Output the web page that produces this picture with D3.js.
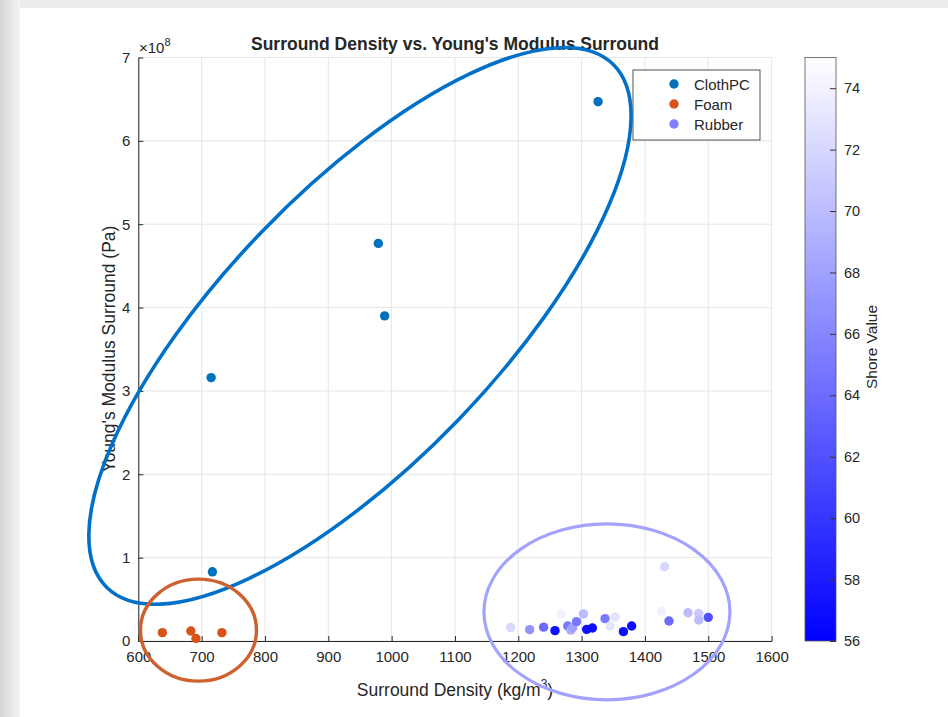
<!DOCTYPE html>
<html>
<head>
<meta charset="utf-8">
<script src="https://cdn.jsdelivr.net/npm/d3@7"></script>
<style>
  body { margin: 0; background: #ffffff; }
  text { font-family: "Liberation Sans", Arial, sans-serif; fill: #262626; }
</style>
</head>
<body>
<svg id="grafico"></svg>
<script>
// dados
let clothDensidade = [1326, 979, 989, 715, 717];
let clothModulo = [6.47e8, 4.77e8, 3.90e8, 3.16e8, 0.83e8];

let foamDensidade = [638, 683, 691, 732];
let foamModulo = [0.10e8, 0.12e8, 0.03e8, 0.10e8];

let rubberDensidade = [1188, 1218, 1240, 1258, 1268, 1278, 1283, 1286, 1292, 1303, 1308, 1317, 1337, 1345, 1353, 1366, 1379, 1426, 1431, 1438, 1468, 1485, 1485, 1500];
let rubberModulo = [0.164e8, 0.136e8, 0.166e8, 0.124e8, 0.325e8, 0.18e8, 0.13e8, 0.16e8, 0.232e8, 0.325e8, 0.14e8, 0.156e8, 0.268e8, 0.18e8, 0.288e8, 0.112e8, 0.18e8, 0.356e8, 0.891e8, 0.24e8, 0.339e8, 0.332e8, 0.252e8, 0.284e8];
let rubberShore = [72, 67, 64, 57, 74, 65, 69, 68, 65, 70, 57, 57, 65, 73, 73, 57, 57, 74, 72, 64, 70, 71, 70, 62];

let ticksX = [600, 700, 800, 900, 1000, 1100, 1200, 1300, 1400, 1500, 1600];
let ticksY = [0, 1, 2, 3, 4, 5, 6, 7];
let ticksShore = [56, 58, 60, 62, 64, 66, 68, 70, 72, 74];

let series = ["ClothPC", "Foam", "Rubber"];
let coresSeries = ["#0072bd", "#d95319", "#7f7fff"];

// anotacoes: centro em unidades dos dados
let elipses = [
  { cx: 950, cy: 3.78e8, rx: 364, ry: 136, rot: -46, cor: "#0070c8", esp: 3.6 },
  { cx: 695, cy: 0.13e8, rx: 58, ry: 51, rot: 0, cor: "#cd6230", esp: 3.4 },
  { cx: 1340, cy: 0.35e8, rx: 123, ry: 88, rot: 0, cor: "#a3a3ff", esp: 3.2 }
];

let largura = 948, altura = 717;
let svg = d3.select("#grafico").attr("width", largura).attr("height", altura);

// bordas cinza da captura de tela
let grad = svg.append("defs").append("linearGradient").attr("id", "borda");
grad.append("stop").attr("offset", "0%").attr("stop-color", "#d6d6d6");
grad.append("stop").attr("offset", "100%").attr("stop-color", "#f4f4f4");
svg.append("rect").attr("x", 0).attr("y", 0).attr("width", largura).attr("height", 8).attr("fill", "#ececec");
svg.append("rect").attr("x", 0).attr("y", 0).attr("width", 20).attr("height", altura).attr("fill", "url(#borda)");

let area = { esq: 138.3, dir: 771.6, topo: 57.5, base: 641 };

let fnX = d3.scaleLinear().domain([600, 1600]).range([area.esq, area.dir]);
let fnY = d3.scaleLinear().domain([0, 7e8]).range([area.base, area.topo]);
let fnShore = d3.scaleLinear().domain([56, 75]).range(["#0000ff", "#ffffff"]);

// grade
let grade = svg.append("g");
grade.selectAll(".gx").data(ticksX).enter().append("line")
  .attr("x1", d => fnX(d)).attr("x2", d => fnX(d))
  .attr("y1", area.topo).attr("y2", area.base)
  .attr("stroke", "#e6e6e6");
grade.selectAll(".gy").data(ticksY).enter().append("line")
  .attr("x1", area.esq).attr("x2", area.dir)
  .attr("y1", d => fnY(d * 1e8)).attr("y2", d => fnY(d * 1e8))
  .attr("stroke", "#e6e6e6");

// eixos
let eixoX = svg.append("g").attr("transform", `translate(0,${area.base})`)
  .call(d3.axisBottom(fnX).tickValues(ticksX).tickFormat(d3.format("d")).tickSizeInner(-5).tickSizeOuter(0).tickPadding(10));
let eixoY = svg.append("g").attr("transform", `translate(${area.esq},0)`)
  .call(d3.axisLeft(fnY).tickValues(ticksY.map(d => d * 1e8)).tickFormat(d => d / 1e8).tickSizeInner(-5).tickSizeOuter(0).tickPadding(8));
[eixoX, eixoY].forEach(e => {
  e.select(".domain").attr("stroke", "#262626");
  e.selectAll(".tick line").attr("stroke", "#262626");
  e.selectAll("text").style("font-size", "15px").style("font-family", "Liberation Sans, Arial, sans-serif").attr("fill", "#262626");
});

// expoente
let expo = svg.append("text").attr("x", 139).attr("y", 53).style("font-size", "15px");
expo.append("tspan").text("\u00d710");
expo.append("tspan").attr("dy", -7).style("font-size", "11px").text("8");

// titulo
svg.append("text").attr("x", 455).attr("y", 50).attr("text-anchor", "middle")
  .style("font-size", "17.5px").style("font-weight", "bold").attr("fill", "#000")
  .text("Surround Density vs. Young's Modulus Surround");

// rotulos
let rotX = svg.append("text").attr("x", 455).attr("y", 696).attr("text-anchor", "middle").style("font-size", "17.5px");
rotX.append("tspan").text("Surround Density (kg/m");
rotX.append("tspan").attr("dy", -8).style("font-size", "12px").text("3");
rotX.append("tspan").attr("dy", 8).text(")");

svg.append("text").attr("transform", "translate(115,349) rotate(-90)").attr("text-anchor", "middle")
  .style("font-size", "17.5px").text("Young's Modulus Surround (Pa)");

// pontos
let pontos = svg.append("g");
pontos.selectAll(".cloth").data(clothDensidade).enter().append("circle")
  .attr("cx", d => fnX(d)).attr("cy", (d, i) => fnY(clothModulo[i]))
  .attr("r", 4.7).attr("fill", coresSeries[0]);
pontos.selectAll(".foam").data(foamDensidade).enter().append("circle")
  .attr("cx", d => fnX(d)).attr("cy", (d, i) => fnY(foamModulo[i]))
  .attr("r", 4.7).attr("fill", coresSeries[1]);
pontos.selectAll(".rubber").data(rubberDensidade).enter().append("circle")
  .attr("cx", d => fnX(d)).attr("cy", (d, i) => fnY(rubberModulo[i]))
  .attr("r", 4.7).attr("fill", (d, i) => fnShore(rubberShore[i]));

// legenda
let legenda = svg.append("g").attr("transform", "translate(633,70)");
legenda.append("rect").attr("width", 127).attr("height", 70).attr("fill", "#fff").attr("stroke", "#262626").attr("stroke-width", 0.8);
legenda.selectAll(".marca").data(series).enter().append("circle")
  .attr("cx", 41).attr("cy", (d, i) => 14 + i * 20).attr("r", 4.7).attr("fill", (d, i) => coresSeries[i]);
legenda.selectAll(".nome").data(series).enter().append("text")
  .attr("x", 61).attr("y", (d, i) => 19.5 + i * 20).style("font-size", "15px").text(d => d);

// barra de cores
let barra = { x: 805, w: 31 };
let fnBarra = d3.scaleLinear().domain([56, 75]).range([area.base, area.topo]);
let gradBarra = svg.select("defs").append("linearGradient").attr("id", "shore")
  .attr("x1", 0).attr("y1", 1).attr("x2", 0).attr("y2", 0);
gradBarra.append("stop").attr("offset", "0%").attr("stop-color", fnShore(56));
gradBarra.append("stop").attr("offset", "100%").attr("stop-color", fnShore(75));
svg.append("rect").attr("x", barra.x).attr("y", fnBarra(75)).attr("width", barra.w)
  .attr("height", fnBarra(56) - fnBarra(75)).attr("fill", "url(#shore)")
  .attr("stroke", "#555").attr("stroke-width", 0.8);
let eixoBarra = svg.append("g").attr("transform", `translate(${barra.x + barra.w},0)`)
  .call(d3.axisRight(fnBarra).tickValues(ticksShore).tickSizeInner(-6).tickSizeOuter(0).tickPadding(8));
eixoBarra.select(".domain").remove();
eixoBarra.selectAll(".tick line").attr("stroke", "#333");
eixoBarra.selectAll("text").style("font-size", "14.5px").style("font-family", "Liberation Sans, Arial, sans-serif").attr("fill", "#262626");
svg.append("text").attr("transform", "translate(877,347) rotate(-90)").attr("text-anchor", "middle")
  .style("font-size", "15.5px").text("Shore Value");

// elipses de anotacao
svg.selectAll(".elipse").data(elipses).enter().append("ellipse")
  .attr("transform", d => `translate(${fnX(d.cx)},${fnY(d.cy)}) rotate(${d.rot})`)
  .attr("rx", d => d.rx).attr("ry", d => d.ry)
  .attr("fill", "none").attr("stroke", d => d.cor).attr("stroke-width", d => d.esp);
</script>
</body>
</html>
